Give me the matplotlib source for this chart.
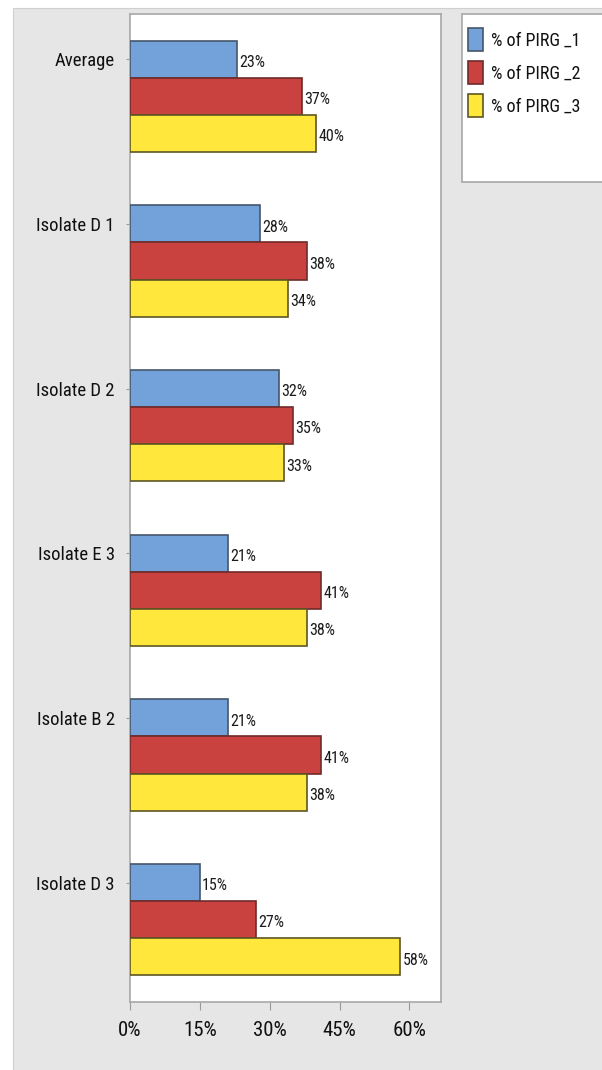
import matplotlib.pyplot as plt
import matplotlib.patches as mpatches
from matplotlib import font_manager
import numpy as np

categories = ['Average', 'Isolate D 1', 'Isolate D 2', 'Isolate E 3', 'Isolate B 2', 'Isolate D 3']
pirg_1 = [23, 28, 32, 21, 21, 15]
pirg_2 = [37, 38, 35, 41, 41, 27]
pirg_3 = [40, 34, 33, 38, 38, 58]
series_names = ['% of PIRG _1', '% of PIRG _2', '% of PIRG _3']
xticks = [0, 15, 30, 45, 60]

colors = ['#72a2d9', '#c9423f', '#ffe83b']
edges = ['#46566b', '#6e2b2a', '#5e5624']


# look for a narrow font, the original uses a condensed face
def narrow_font():
    ranked = []
    for f in font_manager.fontManager.ttflist:
        name = f.name.lower()
        if f.style != 'normal' or f.weight not in (400, 'normal', 'regular'):
            continue
        if 'narrow' in name or 'condensed' in name or f.stretch in ('condensed', 'semi-condensed'):
            ranked.append(f)
        elif isinstance(f.stretch, int) and f.stretch < 500:
            ranked.append(f)
    ranked.sort(key=lambda f: (0 if 'liberation' in f.name.lower() else 1 if 'roboto' in f.name.lower() else 2))
    if ranked:
        return ranked[0].fname
    return None


fname = narrow_font()
if fname:
    def fp(size):
        return font_manager.FontProperties(fname=fname, size=size)
    sc = 1.0
else:
    def fp(size):
        return font_manager.FontProperties(family='Liberation Sans', size=size)
    sc = 0.85

fig = plt.figure(figsize=(6.02, 10.70), dpi=100)
fig.patch.set_facecolor('white')
# grey panel behind the chart
fig.patches.append(mpatches.Rectangle((13 / 602, -0.01), 1, 1.01 - 8 / 1070, transform=fig.transFigure,
                                      facecolor='#e6e6e6', edgecolor='#d0d0d0', lw=0.8, zorder=-5))
# legend box, runs off the right edge like in the original
fig.patches.append(mpatches.Rectangle((462 / 602, 1 - 182 / 1070), 0.3, 168 / 1070, transform=fig.transFigure,
                                      facecolor='white', edgecolor='#a8a8a8', lw=1.2, zorder=-4))

ax = fig.add_axes([130 / 602, 68 / 1070, 311 / 602, 988 / 1070])
ax.set_facecolor('white')

y = np.arange(len(categories))
h = 0.225
for i, vals in enumerate([pirg_1, pirg_2, pirg_3]):
    pos = y + (i - 1) * h
    bars = ax.barh(pos, vals, height=h, color=colors[i], edgecolor=edges[i], linewidth=1.2,
                   label=series_names[i], zorder=3)
    for b, v in zip(bars, vals):
        ax.text(b.get_width() + 0.5, b.get_y() + b.get_height() / 2 + 0.02, f'{v}%',
                va='center', ha='left', fontproperties=fp(11.5 * sc), color='#1a1a1a')

ax.set_ylim(len(categories) - 0.5, -0.5)
ax.set_xlim(0, 66.8)
ax.set_yticks(y - h)
ax.set_yticklabels(categories, color='#111111')
ax.set_xticks(xticks)
ax.set_xticklabels([f'{t}%' for t in xticks], color='#111111')
for t in ax.get_yticklabels():
    t.set_fontproperties(fp(13.5 * sc))
for t in ax.get_xticklabels():
    t.set_fontproperties(fp(15 * sc))
ax.tick_params(axis='y', length=3, color='#999999', pad=8)
ax.tick_params(axis='x', length=6, color='#999999', pad=8)
for s in ax.spines.values():
    s.set_color('#a8a8a8')
    s.set_linewidth(1.2)

leg = fig.legend(loc='upper left', bbox_to_anchor=(468 / 602, 1 - 28 / 1070), prop=fp(13 * sc),
                 frameon=False, handlelength=0.85, handleheight=1.6, handletextpad=0.4,
                 labelspacing=0.55, borderpad=0, borderaxespad=0)
for t in leg.get_texts():
    t.set_color('#111111')

plt.savefig('out.png', dpi=100, facecolor=fig.get_facecolor())
plt.close()
